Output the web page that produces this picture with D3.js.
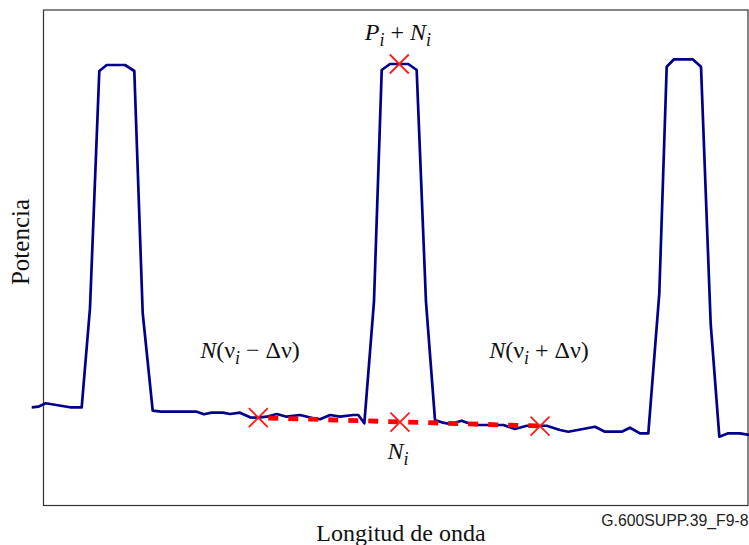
<!DOCTYPE html>
<html><head><meta charset="utf-8">
<script src="https://cdn.jsdelivr.net/npm/d3@7"></script>
<style>html,body{margin:0;padding:0;background:#fff;}svg{display:block;}</style>
</head><body>
<svg id="c" width="749" height="545"></svg>
<script>
// wavelength (arbitrary units 0..100 across the frame) and power (0..100 of frame height)
const wavelength = [-1.67,-0.74,0.31,3.76,5.42,6.60,7.92,8.97,11.57,12.89,14.08,15.50,16.68,21.75,22.78,23.87,25.44,26.47,27.89,29.31,30.49,31.68,33.10,34.52,36.41,38.30,39.25,40.67,42.09,43.97,44.68,45.54,46.91,48.01,49.18,51.78,52.97,54.29,55.57,56.52,57.70,59.36,61.01,62.91,65.27,66.93,68.59,71.43,73.31,74.49,78.28,79.70,82.07,83.25,84.67,85.85,87.41,88.46,89.50,92.15,93.33,94.70,95.93,97.20,98.86,100.14];
const power = [19.82,19.94,20.63,19.82,19.82,39.86,87.69,88.90,88.90,87.69,38.85,19.13,18.93,18.93,18.41,18.73,18.73,18.47,18.73,17.80,17.72,17.92,18.47,17.92,18.26,17.60,17.40,18.26,17.92,18.26,18.26,16.59,41.13,87.89,89.10,89.10,87.89,41.13,17.26,16.79,16.45,17.11,16.25,16.25,16.25,15.44,16.10,16.10,15.24,14.89,15.90,14.89,14.89,15.70,14.57,14.57,42.83,88.56,90.05,90.05,88.56,36.77,13.88,14.57,14.57,14.23];
// measurement markers
const markerX = [30.49, 50.60, 70.48, 50.50];
const markerY = [17.72, 16.81, 16.04, 89.10];
// dashed interpolation between the two side noise points
const interpX = [30.49, 70.48];
const interpY = [17.72, 16.04];

const svg = d3.select("#c");
const L = 43.5, R = 748, T = 10, B = 505.5;
const x = d3.scaleLinear().domain([0, 100]).range([L, R]);
const y = d3.scaleLinear().domain([0, 100]).range([B, T]);

// frame
svg.append("rect").attr("x", L).attr("y", T).attr("width", R - L).attr("height", B - T)
  .attr("fill", "none").attr("stroke", "#333").attr("stroke-width", 1.2);

// trace
const pts = wavelength.map((w, i) => [w, power[i]]);
svg.append("path").datum(pts)
  .attr("d", d3.line().x(d => x(d[0])).y(d => y(d[1])))
  .attr("fill", "none").attr("stroke", "#00008b").attr("stroke-width", 2.7)
  .attr("stroke-linejoin", "round");

// dashed red line
const ipts = interpX.map((w, i) => [w, interpY[i]]);
svg.append("path").datum(ipts)
  .attr("d", d3.line().x(d => x(d[0])).y(d => y(d[1])))
  .attr("fill", "none").attr("stroke", "#ff0000").attr("stroke-width", 4.8)
  .attr("stroke-dasharray", "10,10").attr("stroke-dashoffset", -10);

// X markers
const s = 9.5;
markerX.forEach((mx, i) => {
  const cx = x(mx), cy = y(markerY[i]);
  svg.append("path")
    .attr("d", `M${cx - s},${cy - s}L${cx + s},${cy + s}M${cx - s},${cy + s}L${cx + s},${cy - s}`)
    .attr("stroke", "#ff1a1a").attr("stroke-width", 1.8).attr("fill", "none");
});

const serif = "'Liberation Serif','Times New Roman',serif";
function label(cx, by, parts) {
  const t = svg.append("text").attr("x", cx).attr("y", by)
    .attr("text-anchor", "middle").attr("font-family", serif).attr("font-size", 24).attr("fill", "#111");
  parts.forEach(p => {
    const ts = t.append("tspan").text(p.t);
    if (p.it) ts.attr("font-style", "italic");
    if (p.sub) ts.attr("font-size", 18).attr("dy", 6);
    if (p.up) ts.attr("dy", -6);
  });
}
label(398, 40, [{t:"P", it:1},{t:"i", it:1, sub:1},{t:" + ", up:1},{t:"N", it:1},{t:"i", it:1, sub:1}]);
label(250, 358, [{t:"N", it:1},{t:"(ν"},{t:"i", it:1, sub:1},{t:" − Δν)", up:1}]);
label(539, 358, [{t:"N", it:1},{t:"(ν"},{t:"i", it:1, sub:1},{t:" + Δν)", up:1}]);
label(398, 459, [{t:"N", it:1},{t:"i", it:1, sub:1}]);

// axis titles
svg.append("text").attr("x", 401).attr("y", 541).attr("text-anchor", "middle")
  .attr("font-family", serif).attr("font-size", 24).attr("fill", "#111").text("Longitud de onda");
svg.append("text").attr("transform", "translate(29,242) rotate(-90)").attr("text-anchor", "middle")
  .attr("font-family", serif).attr("font-size", 25).attr("fill", "#111").text("Potencia");

// figure id
svg.append("text").attr("x", 748.5).attr("y", 526).attr("text-anchor", "end")
  .attr("font-family", "'Liberation Sans',Arial,sans-serif").attr("font-size", 15.8).attr("fill", "#222")
  .text("G.600SUPP.39_F9-8");
</script>
</body></html>
